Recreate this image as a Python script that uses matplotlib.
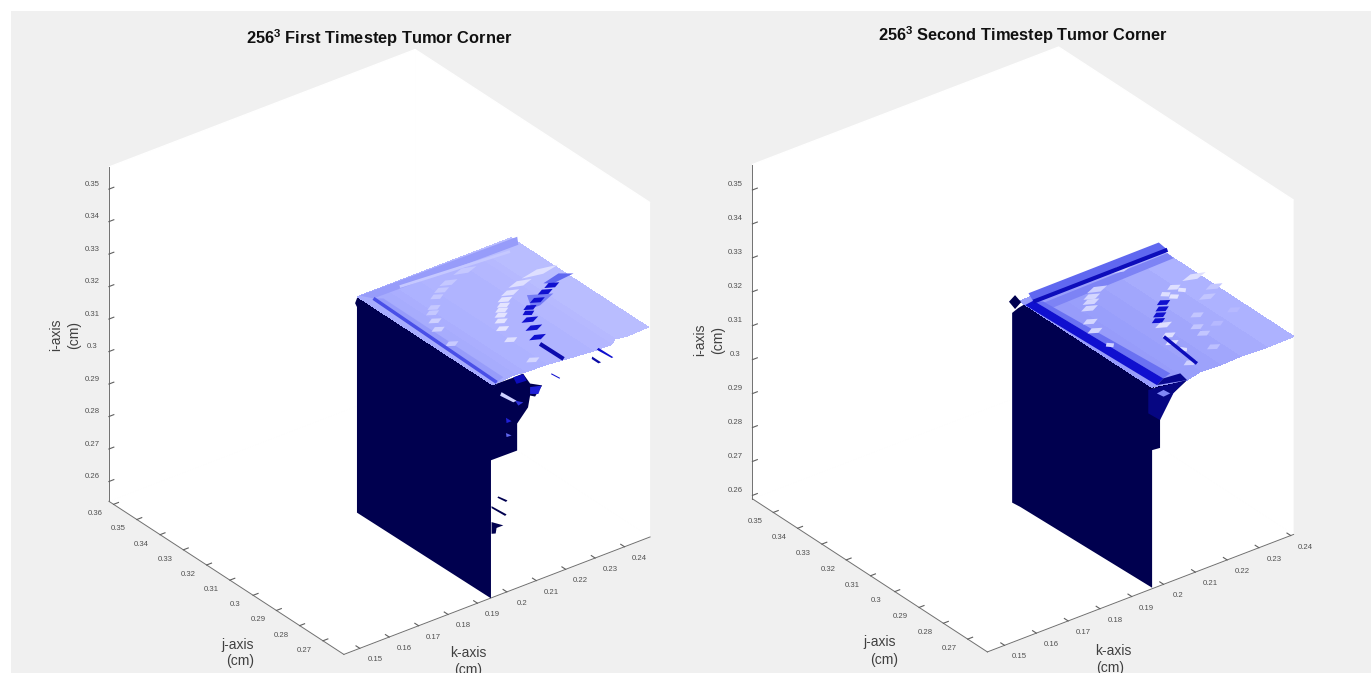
import numpy as np
import matplotlib
matplotlib.use('Agg')
import matplotlib.pyplot as plt
from matplotlib.patches import Rectangle
from matplotlib.colors import LinearSegmentedColormap
from mpl_toolkits.mplot3d import proj3d
from mpl_toolkits.mplot3d.art3d import Poly3DCollection

plt.rcParams['font.family'] = ['Liberation Sans', 'DejaVu Sans']
plt.rcParams['mathtext.fontset'] = 'custom'
plt.rcParams['mathtext.bf'] = 'Liberation Sans:bold'

# first timestep, all in cm. a "level" goes from 0 (navy) to 1 (almost white)
left_k_lim = (.1446, .2487)
left_j_lim = (.2610, .3620)
left_i_lim = (.2539, .3568)
left_k_ticks = [.15, .16, .17, .18, .19, .2, .21, .22, .23, .24]
left_j_ticks = [.27, .28, .29, .3, .31, .32, .33, .34, .35, .36]
left_i_ticks = [.26, .27, .28, .29, .3, .31, .32, .33, .34, .35]
left_plate_i = .319
left_wall_k = .1946
left_wall = [(.2610, .2538), (.3186, .2533), (.3186, .3166), (.3194, .3174), (.3182, .3202), (.3121, .3217), (.2584, .3211), (.2610, .3171)]
left_side = [(.1940, .2538), (.1940, .2941), (.1943, .2963), (.2035, .2962), (.2035, .3045), (.2072, .3082), (.2079, .3116), (.2096, .3107),
             (.2120, .3133), (.2079, .3153), (.2055, .3192), (.2021, .3191), (.1966, .3192), (.1940, .3171)]
left_front_k = [.1955, .2037, .2066, .2137, .2199, .2281, .2342, .2368, .2401, .2478]
left_front_j = [.2614, .2621, .2615, .2612, .2604, .2594, .2592, .2610, .2602, .2606]
left_back_j = .3196
left_plate_levels = [.77, .78, .79, .80, .80, .81, .82, .83, .83]
left_patches = [[(.1964, .3196), (.2494, .3190), (.2470, .3155), (.1984, .3163)],
                [(.1984, .3163), (.1972, .2618), (.2003, .2629), (.2005, .3147)],
                [(.2462, .2972), (.2494, .2948), (.2418, .2939), (.2397, .2955)],
                [(.2323, .2932), (.2385, .2897), (.2318, .2869), (.2289, .2869)]]
left_patch_levels = [.72, .72, .55, .62]
left_lines = [[(.2079, .3170), (.2430, .3140)], [(.1984, .3163), (.1972, .2618)], [(.2191, .2709), (.2192, .2609)]]
left_line_levels = [.87, .48, .22]
left_line_widths = [2, 2.5, 3]
left_streak_k = [.2271, .2196, .2157, .2125, .2084, .2063, .2042, .2021, .2003,
                 .2428, .2347, .2295, .2262, .2240, .2220, .2202, .2183, .2161, .2142, .2123,
                 .2409, .2373, .2329, .2289, .2268, .2249, .2231, .2208]
left_streak_j = [.3133, .3109, .3089, .3069, .3029, .3009, .2972, .2932, .2850,
                 .3009, .2992, .2969, .2949, .2928, .2910, .2890, .2866, .2832, .2773, .2654,
                 .2934, .2917, .2895, .2876, .2856, .2826, .2786, .2741]
left_streak_len = [.0079, .0062, .0051, .0045, .0045, .0045, .0045, .0045, .0045,
                   .0125, .0079, .0062, .0051, .0045, .0045, .0045, .0045, .0045, .0045, .0045,
                   .0051, .0051, .0051, .0045, .0040, .0057, .0057, .0057]
left_streak_levels = [.87, .87, .87, .87, .87, .87, .9, .9, .88,
                      .95, .95, .95, .97, .97, .97, .97, .97, .97, .95, .92,
                      .3, .3, .3, .3, .3, .3, .3, .3]
left_side_bits = [[(.1971, .2843), (.2002, .2820), (.1997, .2817), (.1968, .2840)],
                  [(.1948, .2821), (.1999, .2778), (.1994, .2775), (.1948, .2815)],
                  [(.1948, .2772), (.1988, .2748), (.1965, .2748), (.1962, .2732), (.1948, .2736)],
                  [(.1982, .3160), (.2033, .3116), (.2022, .3115), (.1977, .3151)],
                  [(.2028, .3118), (.2056, .3103), (.2039, .3099)],
                  [(.1997, .3076), (.2016, .3059), (.1999, .3059)],
                  [(.1997, .3029), (.2016, .3015), (.1999, .3016)],
                  [(.2079, .3142), (.2118, .3133), (.2107, .3111), (.2079, .3121)],
                  [(.2022, .3192), (.2056, .3190), (.2067, .3166), (.2033, .3168)],
                  [(.2152, .3159), (.2181, .3135), (.2179, .3133), (.2150, .3157)]]
left_side_bit_levels = [0, 0, 0, .9, .4, .35, .55, .35, .25, .3]
left_plate_bits = [[(.2303, .2599), (.2304, .2537), (.2298, .2536), (.2293, .2594)],
                   [(.2261, .2573), (.2261, .2535), (.2252, .2535), (.2252, .2564)]]
left_plate_bit_levels = [.3, .2]

# second timestep
right_k_lim = (.1446, .2409)
right_j_lim = (.2619, .3586)
right_i_lim = (.2590, .3575)
right_k_ticks = [.15, .16, .17, .18, .19, .2, .21, .22, .23, .24]
right_j_ticks = [.27, .28, .29, .3, .31, .32, .33, .34, .35]
right_i_ticks = [.26, .27, .28, .29, .3, .31, .32, .33, .34, .35]
right_plate_i = .3172
right_wall_k = .1964
right_wall = [(.2619, .2593), (.3162, .2578), (.3195, .2575), (.3195, .3134), (.3170, .3160), (.3142, .3185), (.2599, .3211), (.2619, .3169)]
right_side = [(.1958, .2593), (.1958, .2999), (.1989, .2996), (.1989, .3084), (.2005, .3111), (.2030, .3143), (.2074, .3165), (.2043, .3185),
              (.1980, .3184), (.1958, .3169)]
right_front_k = [.1975, .2067, .2119, .2179, .2244, .2325, .2411]
right_front_j = [.2636, .2610, .2623, .2619, .2622, .2618, .2620]
right_back_j = .3180
right_plate_levels = [.72, .73, .74, .75, .77, .79]
right_patches = [[(.2017, .3197), (.2429, .3200), (.2424, .3158), (.2001, .3156)],
                 [(.2007, .3136), (.2414, .3145), (.2411, .3115), (.2002, .3102)],
                 [(.1974, .3155), (.1992, .2636), (.2025, .2653), (.2004, .3160)],
                 [(.2004, .3160), (.2025, .2653), (.2054, .2662), (.2021, .3141)],
                 [(.1992, .2636), (.2067, .2610), (.2074, .2647), (.2025, .2653)]]
right_patch_levels = [.55, .64, .3, .58, .15]
right_lines = [[(.2001, .3156), (.2424, .3158)], [(.2153, .2818), (.2137, .2661)]]
right_line_levels = [.25, .25]
right_line_widths = [3, 2.5]
right_streak_k = [.2272, .2165, .2132, .2115, .2092, .2053, .2035, .2021,
                  .2395, .2323, .2331, .2285, .2295, .2256, .2234, .2211, .2191, .2188, .2168, .2151, .2154, .2126,
                  .2361, .2285, .2242, .2249, .2405, .2373, .2299, .2221]
right_streak_j = [.3152, .3108, .3087, .3068, .3044, .2990, .2947, .2867,
                  .3011, .2999, .2976, .2984, .2962, .2954, .2931, .2911, .2890, .2865, .2817, .2782, .2738, .2674,
                  .2911, .2854, .2771, .2807, .2941, .2818, .2790, .2702]
right_streak_len = [.0084, .0063, .0053, .0053, .0053, .0047, .0047, .0026,
                    .0074, .0042, .0026, .0032, .0032, .0042, .0042, .0042, .0042, .0053, .0042, .0042, .0021, .0042,
                    .0053, .0042, .0042, .0042, .0053, .0042, .0042, .0042]
right_streak_levels = [.9, .9, .92, .92, .92, .92, .92, .9,
                       .95, .95, .97, .95, .97, .3, .3, .3, .3, .95, .95, .95, .95, .9,
                       .86, .86, .86, .86, .86, .82, .82, .84]
right_side_bits = [[(.1952, .3180), (.2073, .3166), (.2031, .3142), (.1989, .3078), (.1952, .3111)],
                   [(.1979, .3160), (.2000, .3163), (.2021, .3145), (.2000, .3143)]]
right_side_bit_levels = [.12, .65]
right_plate_bits = []
right_plate_bit_levels = []
right_ball = [(.3208, .3161), (.3183, .3192), (.3158, .3183), (.3183, .3151)]

W = 1371
H = 673
BOX = 649

shade = LinearSegmentedColormap.from_list('shade', [(0, '#00004f'), (.3, '#1010d0'), (.55, '#6068f0'), (.8, '#b0b4ff'), (1, '#ececff')])

fig = plt.figure(figsize=(W / 100, H / 100), dpi=100)
fig.patch.set_facecolor('white')
fig.add_artist(Rectangle((11 / W, 0), 1 - 11 / W, 1 - 11 / H, transform=fig.transFigure, fc='#f0f0f0', ec='none', zorder=-10))


def add_polys(ax, verts, levels, zo):
    pc = Poly3DCollection(verts, facecolors=[shade(l) for l in levels], edgecolors='none', linewidths=0, zorder=zo)
    ax.add_collection3d(pc)


def tick_text(ax, k, j, i, value):
    # plain 2D text placed through the axes' own projection
    x, y, _ = proj3d.proj_transform(k, j, i, ax.get_proj())
    ax.text2D(x, y, '%g' % value, transform=ax.transData, ha='center', va='center', fontsize=5.6, color='#505050', zorder=20)


def tumor_panel(cx, cy, k_lim, j_lim, i_lim, k_ticks, j_ticks, i_ticks):
    left = (cx - .5135 * BOX) / W
    bottom = ((H - cy) - .5135 * BOX) / H
    ax = fig.add_axes([left, bottom, BOX / W, BOX / H], projection='3d', proj_type='ortho')
    ax.computed_zorder = False
    ax.set_facecolor('none')
    ax.view_init(elev=30, azim=232.5)
    ax.set_box_aspect((1, 1, 1))
    ax.set_xlim(*k_lim, view_margin=0)
    ax.set_ylim(*j_lim, view_margin=0)
    ax.set_zlim(*i_lim, view_margin=0)
    ax.grid(False)
    for a, t in ((ax.xaxis, k_ticks), (ax.yaxis, j_ticks), (ax.zaxis, i_ticks)):
        a.set_pane_color('white')
        a.pane.set_edgecolor('white')
        a.line.set_color('#707070')
        a.line.set_linewidth(.7)
        a.set_ticks(t)
        a.set_tick_params(color='#606060', width=.6, label1On=False, label2On=False)
        a._axinfo['tick']['inward_factor'] = 0
        a._axinfo['tick']['outward_factor'] = .2
    ax.zaxis.set_ticks_position('upper')
    k_span = k_lim[1] - k_lim[0]
    j_span = j_lim[1] - j_lim[0]
    i_span = i_lim[1] - i_lim[0]
    for v in k_ticks:
        tick_text(ax, v, j_lim[0] - .064 * j_span, i_lim[0] - .005 * i_span, v)
    for v in j_ticks:
        tick_text(ax, k_lim[0] - .06 * k_span, v, i_lim[0] - .007 * i_span, v)
    for v in i_ticks:
        tick_text(ax, k_lim[0], j_lim[1] + .072 * j_span, v - .018 * i_span, v)
    return ax


def draw_tumor(ax, j_min, wall_k, plate_i, wall, side, front_k, front_j, back_j, plate_levels, patches, patch_levels,
               lines, line_levels, line_widths, streak_k, streak_j, streak_len, streak_levels, side_bits, side_bit_levels,
               plate_bits, plate_bit_levels):
    add_polys(ax, [[(wall_k, j, i) for j, i in wall]], [0], 3)
    add_polys(ax, [[(k, j_min, i) for k, i in side]], [0], 4)
    X = np.array([front_k, front_k])
    Y = np.array([front_j, [back_j] * len(front_j)])
    Z = np.full_like(X, plate_i)
    colors = np.array([[shade(l) for l in plate_levels]])
    ax.plot_surface(X, Y, Z, facecolors=colors, shade=False, linewidth=0, antialiased=False, zorder=5, rstride=1, cstride=1)
    add_polys(ax, [[(k, j, plate_i) for k, j in p] for p in patches], patch_levels, 6)
    dj = .0014
    diamonds = []
    for k, j, n in zip(streak_k, streak_j, streak_len):
        diamonds.append([(k - n / 2, j, plate_i), (k, j - dj, plate_i), (k + n / 2, j, plate_i), (k, j + dj, plate_i)])
    add_polys(ax, diamonds, streak_levels, 7)
    for pts, l, w in zip(lines, line_levels, line_widths):
        ax.plot([p[0] for p in pts], [p[1] for p in pts], [plate_i, plate_i], color=shade(l), lw=w, solid_capstyle='butt', zorder=8)
    add_polys(ax, [[(k, j_min, i) for k, i in p] for p in side_bits], side_bit_levels, 9)
    if plate_bits:
        add_polys(ax, [[(k, j, plate_i) for k, j in p] for p in plate_bits], plate_bit_levels, 9)


ax1 = tumor_panel(379.5, 352, left_k_lim, left_j_lim, left_i_lim, left_k_ticks, left_j_ticks, left_i_ticks)
draw_tumor(ax1, left_j_lim[0], left_wall_k, left_plate_i, left_wall, left_side, left_front_k, left_front_j, left_back_j,
           left_plate_levels, left_patches, left_patch_levels, left_lines, left_line_levels, left_line_widths,
           left_streak_k, left_streak_j, left_streak_len, left_streak_levels, left_side_bits, left_side_bit_levels,
           left_plate_bits, left_plate_bit_levels)

ax2 = tumor_panel(1023, 349.5, right_k_lim, right_j_lim, right_i_lim, right_k_ticks, right_j_ticks, right_i_ticks)
draw_tumor(ax2, right_j_lim[0], right_wall_k, right_plate_i, right_wall, right_side, right_front_k, right_front_j, right_back_j,
           right_plate_levels, right_patches, right_patch_levels, right_lines, right_line_levels, right_line_widths,
           right_streak_k, right_streak_j, right_streak_len, right_streak_levels, right_side_bits, right_side_bit_levels,
           right_plate_bits, right_plate_bit_levels)
add_polys(ax2, [[(right_wall_k, j, i) for j, i in right_ball]], [0], 9)

fig.text(379 / W, 1 - 38 / H, r'256$^{\mathbf{3}}$ First Timestep Tumor Corner', ha='center', va='center', fontsize=11.8, fontweight='bold', color='#111111')
fig.text(1023 / W, 1 - 35 / H, r'256$^{\mathbf{3}}$ Second Timestep Tumor Corner', ha='center', va='center', fontsize=11.8, fontweight='bold', color='#111111')

axis_labels = [(238, 645, 'j-axis', 0), (240, 661, '(cm)', 0), (468, 653, 'k-axis', 0), (468, 670, '(cm)', 0), (56, 335, 'i-axis', 90), (74, 335, '(cm)', 90),
               (880, 642, 'j-axis', 0), (884, 660, '(cm)', 0), (1113, 651, 'k-axis', 0), (1110, 668, '(cm)', 0), (700, 340, 'i-axis', 90), (718, 340, '(cm)', 90)]
for x, y, s, r in axis_labels:
    fig.text(x / W, 1 - y / H, s, ha='center', va='center', rotation=r, fontsize=10, color='#404040')

fig.savefig('out.png', dpi=100, facecolor='white')
